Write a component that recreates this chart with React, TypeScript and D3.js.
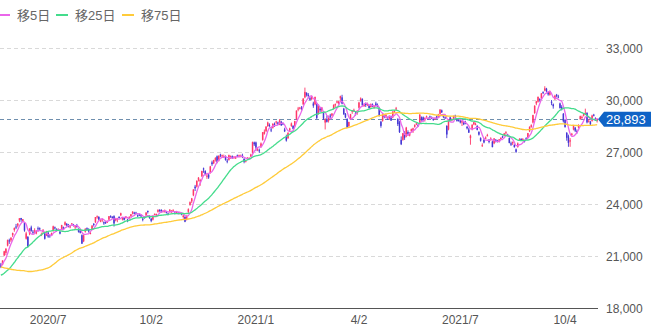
import React from "react";
import * as d3 from "d3";

// Closes before the first visible candle (needed for the moving averages)
const priorCloses: number[] = [
  22977, 23205,
  22971, 23084, 23319, 23873, 23827, 23685, 23861, 23827, 23687, 23523, 23194, 23400, 23479, 23386, 22605, 22426, 21948, 21142,
  21344, 21082, 21100, 21329, 20749, 19698, 19867, 19416, 18559, 17431, 17002, 17011, 16726, 16552, 16887, 18092, 19546, 18665, 19389, 19084, 18917,
  18065, 17819, 17820, 18576, 18950, 19353, 19345, 19498, 19043, 19638, 19550, 19290, 19897, 19669, 19281, 19137, 19429, 19262, 19783, 19771, 20194,
  19619, 19674, 20179, 20390, 20366, 20267, 19915, 20037, 20133, 20433, 20595, 20552,
];

// [date, open, high, low, close]
const candles: [string, number, number, number, number][] = [
  ["2020-05-22", 20500, 20600, 20300, 20388], ["2020-05-25", 20500, 20750, 20460, 20741], ["2020-05-26", 21030, 21300, 20990, 21271],
  ["2020-05-27", 21180, 21450, 21050, 21419], ["2020-05-28", 21600, 21950, 21550, 21916], ["2020-05-29", 21900, 22000, 21700, 21877],
  ["2020-06-01", 21900, 22070, 21800, 22062], ["2020-06-02", 22200, 22350, 22100, 22325], ["2020-06-03", 22500, 22650, 22400, 22613],
  ["2020-06-04", 22700, 22850, 22550, 22695], ["2020-06-05", 22750, 22900, 22650, 22863], ["2020-06-08", 23050, 23180, 22950, 23178],
  ["2020-06-09", 23190, 23200, 22970, 23091], ["2020-06-10", 23000, 23130, 22950, 23124], ["2020-06-11", 22900, 22950, 22400, 22472],
  ["2020-06-12", 22000, 22400, 21950, 22305], ["2020-06-15", 22100, 22150, 21500, 21531], ["2020-06-16", 22300, 22600, 22200, 22582],
  ["2020-06-17", 22650, 22750, 22400, 22455], ["2020-06-18", 22400, 22500, 22250, 22355], ["2020-06-19", 22450, 22600, 22300, 22478],
  ["2020-06-22", 22300, 22500, 22250, 22437], ["2020-06-23", 22600, 22700, 22400, 22549], ["2020-06-24", 22600, 22650, 22450, 22534],
  ["2020-06-25", 22250, 22350, 22150, 22259], ["2020-06-26", 22400, 22550, 22300, 22512], ["2020-06-29", 22300, 22350, 21950, 21995],
  ["2020-06-30", 22200, 22450, 22150, 22288],
  ["2020-07-01", 22350, 22400, 22050, 22122], ["2020-07-02", 22200, 22250, 22050, 22145], ["2020-07-03", 22250, 22350, 22200, 22306],
  ["2020-07-06", 22450, 22750, 22400, 22714], ["2020-07-07", 22650, 22700, 22550, 22614], ["2020-07-08", 22550, 22600, 22400, 22438],
  ["2020-07-09", 22500, 22600, 22450, 22529], ["2020-07-10", 22400, 22450, 22250, 22291], ["2020-07-13", 22500, 22800, 22480, 22784],
  ["2020-07-14", 22650, 22700, 22500, 22587], ["2020-07-15", 22800, 23000, 22750, 22945], ["2020-07-16", 22850, 22900, 22700, 22770],
  ["2020-07-17", 22800, 22850, 22650, 22696], ["2020-07-20", 22650, 22750, 22600, 22717], ["2020-07-21", 22850, 22900, 22750, 22884],
  ["2020-07-22", 22800, 22850, 22700, 22751], ["2020-07-27", 22650, 22750, 22550, 22715], ["2020-07-28", 22750, 22850, 22650, 22657],
  ["2020-07-29", 22550, 22600, 22350, 22397], ["2020-07-30", 22450, 22500, 22300, 22339], ["2020-07-31", 22200, 22250, 21700, 21710],
  ["2020-08-03", 21850, 22250, 21800, 22195], ["2020-08-04", 22400, 22600, 22350, 22573], ["2020-08-05", 22600, 22650, 22450, 22514],
  ["2020-08-06", 22550, 22600, 22350, 22418], ["2020-08-07", 22300, 22400, 22250, 22329], ["2020-08-11", 22550, 22780, 22500, 22750],
  ["2020-08-12", 22850, 22900, 22700, 22843], ["2020-08-13", 22950, 23250, 22900, 23249], ["2020-08-14", 23250, 23340, 23150, 23289],
  ["2020-08-17", 23250, 23300, 23050, 23096], ["2020-08-18", 23050, 23150, 22950, 23051], ["2020-08-19", 23050, 23150, 22950, 23110],
  ["2020-08-20", 22950, 23000, 22800, 22880], ["2020-08-21", 22950, 23000, 22850, 22920], ["2020-08-24", 22950, 23050, 22900, 22985],
  ["2020-08-25", 23100, 23300, 23050, 23296], ["2020-08-26", 23300, 23350, 23200, 23290], ["2020-08-27", 23250, 23300, 23150, 23208],
  ["2020-08-28", 23300, 23350, 22700, 22882], ["2020-08-31", 23050, 23200, 23000, 23139],
  ["2020-09-01", 23100, 23200, 22950, 23138], ["2020-09-02", 23250, 23300, 23150, 23247], ["2020-09-03", 23350, 23500, 23300, 23465],
  ["2020-09-04", 23100, 23250, 23050, 23205], ["2020-09-07", 23200, 23250, 23050, 23089], ["2020-09-08", 23200, 23300, 23150, 23274],
  ["2020-09-09", 23100, 23150, 22950, 23032], ["2020-09-10", 23150, 23300, 23100, 23235], ["2020-09-11", 23300, 23420, 23250, 23406],
  ["2020-09-14", 23450, 23580, 23400, 23559], ["2020-09-15", 23500, 23550, 23400, 23454], ["2020-09-16", 23500, 23550, 23400, 23475],
  ["2020-09-17", 23350, 23400, 23250, 23319], ["2020-09-18", 23400, 23450, 23300, 23360], ["2020-09-23", 23350, 23400, 23250, 23346],
  ["2020-09-24", 23150, 23200, 23000, 23087], ["2020-09-25", 23250, 23300, 23150, 23204], ["2020-09-28", 23350, 23520, 23300, 23511],
  ["2020-09-29", 23600, 23620, 23450, 23539], ["2020-09-30", 23300, 23350, 23150, 23185],
  ["2020-10-02", 23150, 23200, 22950, 23029], ["2020-10-05", 23100, 23350, 23050, 23312], ["2020-10-06", 23400, 23450, 23350, 23433],
  ["2020-10-07", 23350, 23450, 23300, 23422], ["2020-10-08", 23550, 23700, 23500, 23647], ["2020-10-09", 23650, 23700, 23550, 23619],
  ["2020-10-12", 23650, 23700, 23500, 23558], ["2020-10-13", 23550, 23650, 23500, 23601], ["2020-10-14", 23550, 23680, 23500, 23626],
  ["2020-10-15", 23550, 23600, 23450, 23507], ["2020-10-16", 23450, 23500, 23350, 23410], ["2020-10-19", 23550, 23700, 23500, 23671],
  ["2020-10-20", 23550, 23650, 23500, 23567], ["2020-10-21", 23600, 23700, 23550, 23639], ["2020-10-22", 23500, 23550, 23400, 23474],
  ["2020-10-23", 23500, 23550, 23450, 23516], ["2020-10-26", 23500, 23550, 23400, 23494], ["2020-10-27", 23450, 23550, 23400, 23485],
  ["2020-10-28", 23450, 23500, 23350, 23418], ["2020-10-29", 23250, 23400, 23150, 23331], ["2020-10-30", 23250, 23300, 22950, 22977],
  ["2020-11-02", 23100, 23350, 23050, 23295], ["2020-11-04", 23550, 23750, 23450, 23695], ["2020-11-05", 23950, 24150, 23900, 24105],
  ["2020-11-06", 24150, 24350, 24050, 24325], ["2020-11-09", 24500, 24850, 24450, 24839], ["2020-11-10", 25000, 25100, 24750, 24905],
  ["2020-11-11", 25000, 25350, 24950, 25349], ["2020-11-12", 25400, 25550, 25300, 25520], ["2020-11-13", 25300, 25450, 25050, 25385],
  ["2020-11-16", 25600, 25920, 25550, 25906], ["2020-11-17", 26050, 26100, 25800, 26014], ["2020-11-18", 25900, 25950, 25650, 25728],
  ["2020-11-19", 25600, 25800, 25450, 25634], ["2020-11-20", 25700, 25750, 25450, 25527], ["2020-11-24", 25800, 26200, 25750, 26165],
  ["2020-11-25", 26400, 26500, 26200, 26297], ["2020-11-26", 26350, 26550, 26300, 26537], ["2020-11-27", 26550, 26700, 26450, 26644],
  ["2020-11-30", 26750, 26800, 26350, 26433],
  ["2020-12-01", 26500, 26800, 26450, 26787], ["2020-12-02", 26850, 26900, 26700, 26800], ["2020-12-03", 26800, 26850, 26700, 26809],
  ["2020-12-04", 26750, 26850, 26650, 26751], ["2020-12-07", 26750, 26800, 26500, 26547], ["2020-12-08", 26500, 26600, 26350, 26467],
  ["2020-12-09", 26550, 26850, 26500, 26817], ["2020-12-10", 26700, 26800, 26600, 26756], ["2020-12-11", 26750, 26800, 26600, 26652],
  ["2020-12-14", 26700, 26750, 26600, 26732], ["2020-12-15", 26650, 26750, 26600, 26687], ["2020-12-16", 26800, 26850, 26700, 26757],
  ["2020-12-17", 26800, 26850, 26700, 26806], ["2020-12-18", 26750, 26850, 26700, 26763], ["2020-12-21", 26800, 26900, 26650, 26714],
  ["2020-12-22", 26600, 26650, 26350, 26436], ["2020-12-23", 26450, 26550, 26400, 26524], ["2020-12-24", 26600, 26700, 26550, 26668],
  ["2020-12-25", 26650, 26700, 26600, 26656], ["2020-12-28", 26750, 26900, 26700, 26854], ["2020-12-29", 26950, 27600, 26900, 27568],
  ["2020-12-30", 27550, 27600, 27350, 27444],
  ["2021-01-04", 27550, 27600, 27050, 27258], ["2021-01-05", 27150, 27250, 27050, 27158], ["2021-01-06", 27100, 27200, 26950, 27055],
  ["2021-01-07", 27300, 27550, 27250, 27490], ["2021-01-08", 27700, 28150, 27650, 28139], ["2021-01-12", 28050, 28300, 28000, 28164],
  ["2021-01-13", 28200, 28500, 28150, 28456], ["2021-01-14", 28500, 28750, 28450, 28698], ["2021-01-15", 28550, 28650, 28450, 28519],
  ["2021-01-18", 28300, 28450, 28150, 28242], ["2021-01-19", 28400, 28650, 28350, 28633], ["2021-01-20", 28600, 28700, 28450, 28523],
  ["2021-01-21", 28700, 28800, 28600, 28756], ["2021-01-22", 28700, 28750, 28550, 28631], ["2021-01-25", 28600, 28900, 28550, 28822],
  ["2021-01-26", 28750, 28800, 28500, 28546], ["2021-01-27", 28650, 28700, 28550, 28635], ["2021-01-28", 28300, 28400, 28150, 28197],
  ["2021-01-29", 27900, 28000, 27600, 27663],
  ["2021-02-01", 27800, 28150, 27750, 28091], ["2021-02-02", 28250, 28400, 28150, 28362], ["2021-02-03", 28500, 28700, 28450, 28646],
  ["2021-02-04", 28500, 28550, 28300, 28341], ["2021-02-05", 28500, 28800, 28450, 28779], ["2021-02-08", 28900, 29400, 28850, 29388],
  ["2021-02-09", 29450, 29600, 29350, 29505], ["2021-02-10", 29500, 29600, 29450, 29562], ["2021-02-12", 29550, 29650, 29400, 29520],
  ["2021-02-15", 29750, 30100, 29700, 30084], ["2021-02-16", 30150, 30714, 30100, 30467], ["2021-02-17", 30400, 30450, 30200, 30292],
  ["2021-02-18", 30300, 30400, 30100, 30236], ["2021-02-19", 30100, 30200, 29950, 30017], ["2021-02-22", 30050, 30250, 30000, 30156],
  ["2021-02-24", 29800, 29900, 29550, 29671], ["2021-02-25", 29750, 30200, 29700, 30168], ["2021-02-26", 29800, 29850, 28900, 28966],
  ["2021-03-01", 29200, 29700, 29150, 29663], ["2021-03-02", 29500, 29600, 29300, 29408], ["2021-03-03", 29400, 29600, 29300, 29559],
  ["2021-03-04", 29300, 29350, 28850, 28930], ["2021-03-05", 28700, 28950, 28300, 28864], ["2021-03-08", 28900, 29100, 28700, 28743],
  ["2021-03-09", 28800, 29100, 28700, 29028], ["2021-03-10", 29100, 29200, 28900, 29036], ["2021-03-11", 29100, 29250, 29050, 29211],
  ["2021-03-12", 29500, 29750, 29450, 29717], ["2021-03-15", 29700, 29800, 29600, 29766], ["2021-03-16", 29850, 29950, 29800, 29921],
  ["2021-03-17", 29800, 29950, 29750, 29914], ["2021-03-18", 30100, 30250, 29950, 30216], ["2021-03-19", 30150, 30300, 29750, 29792],
  ["2021-03-22", 29500, 29550, 29150, 29174], ["2021-03-23", 29200, 29250, 28950, 28995], ["2021-03-24", 28900, 28950, 28400, 28405],
  ["2021-03-25", 28500, 28750, 28400, 28729], ["2021-03-26", 28900, 29200, 28850, 29176], ["2021-03-29", 29350, 29400, 29200, 29384],
  ["2021-03-30", 29400, 29500, 29300, 29432], ["2021-03-31", 29250, 29350, 29100, 29178],
  ["2021-04-01", 29250, 29400, 29150, 29388], ["2021-04-02", 29550, 29900, 29500, 29854], ["2021-04-05", 29950, 30150, 29900, 30089],
  ["2021-04-06", 30050, 30100, 29650, 29696], ["2021-04-07", 29650, 29800, 29600, 29730], ["2021-04-08", 29800, 29850, 29600, 29708],
  ["2021-04-09", 29750, 29850, 29650, 29768], ["2021-04-12", 29700, 29750, 29500, 29538], ["2021-04-13", 29600, 29800, 29550, 29751],
  ["2021-04-14", 29750, 29800, 29600, 29620], ["2021-04-15", 29550, 29700, 29500, 29642], ["2021-04-16", 29800, 29900, 29650, 29683],
  ["2021-04-19", 29700, 29800, 29600, 29685], ["2021-04-20", 29550, 29600, 29050, 29100], ["2021-04-21", 28750, 28800, 28400, 28508],
  ["2021-04-22", 28800, 29250, 28750, 29188], ["2021-04-23", 29100, 29150, 28950, 29020], ["2021-04-26", 29050, 29200, 29000, 29126],
  ["2021-04-27", 29000, 29050, 28850, 28991], ["2021-04-28", 28950, 29100, 28850, 29053], ["2021-04-30", 29050, 29100, 28800, 28812],
  ["2021-05-06", 29000, 29350, 28950, 29331], ["2021-05-07", 29300, 29400, 29250, 29357], ["2021-05-10", 29500, 29600, 29400, 29518],
  ["2021-05-11", 28900, 28950, 28500, 28608], ["2021-05-12", 28700, 28800, 28100, 28147], ["2021-05-13", 27700, 27900, 27400, 27448],
  ["2021-05-14", 27700, 28100, 27650, 28084], ["2021-05-17", 28100, 28200, 27700, 27824], ["2021-05-18", 27900, 28450, 27850, 28406],
  ["2021-05-19", 28150, 28250, 27950, 28044], ["2021-05-20", 27950, 28150, 27900, 28098], ["2021-05-21", 28200, 28350, 28150, 28317],
  ["2021-05-24", 28200, 28400, 28100, 28364], ["2021-05-25", 28450, 28600, 28400, 28553], ["2021-05-26", 28600, 28700, 28550, 28642],
  ["2021-05-27", 28550, 28650, 28450, 28549], ["2021-05-28", 28700, 29200, 28650, 29149], ["2021-05-31", 29000, 29050, 28800, 28860],
  ["2021-06-01", 29000, 29050, 28750, 28814], ["2021-06-02", 28850, 29000, 28750, 28946], ["2021-06-03", 29000, 29100, 28950, 29058],
  ["2021-06-04", 28950, 29000, 28850, 28941], ["2021-06-07", 29050, 29100, 28950, 29019], ["2021-06-08", 29000, 29050, 28900, 28963],
  ["2021-06-09", 28900, 28950, 28800, 28860], ["2021-06-10", 28900, 29000, 28850, 28958], ["2021-06-11", 29050, 29100, 28900, 28948],
  ["2021-06-14", 29050, 29200, 29000, 29161], ["2021-06-15", 29200, 29480, 29150, 29441], ["2021-06-16", 29400, 29450, 29250, 29291],
  ["2021-06-17", 29100, 29150, 28950, 29018], ["2021-06-18", 29000, 29050, 28900, 28964], ["2021-06-21", 28500, 28550, 27800, 28010],
  ["2021-06-22", 28300, 28900, 28250, 28884], ["2021-06-23", 29000, 29050, 28850, 28874], ["2021-06-24", 28850, 28950, 28800, 28875],
  ["2021-06-25", 28950, 29100, 28900, 29066], ["2021-06-28", 29100, 29150, 28950, 29048], ["2021-06-29", 28850, 28900, 28750, 28812],
  ["2021-06-30", 28900, 28950, 28750, 28791],
  ["2021-07-01", 28800, 28850, 28650, 28707], ["2021-07-02", 28700, 28800, 28500, 28783], ["2021-07-05", 28750, 28800, 28550, 28598],
  ["2021-07-06", 28700, 28800, 28600, 28643], ["2021-07-07", 28450, 28500, 28300, 28366], ["2021-07-08", 28300, 28400, 28100, 28118],
  ["2021-07-09", 27800, 28000, 27420, 27940], ["2021-07-12", 28300, 28600, 28250, 28569], ["2021-07-13", 28600, 28750, 28550, 28718],
  ["2021-07-14", 28600, 28700, 28550, 28608], ["2021-07-15", 28500, 28550, 28250, 28279], ["2021-07-16", 28150, 28200, 27950, 28003],
  ["2021-07-19", 27800, 27850, 27600, 27652], ["2021-07-20", 27350, 27500, 27300, 27388], ["2021-07-21", 27700, 27800, 27500, 27548],
  ["2021-07-26", 27800, 27900, 27750, 27833], ["2021-07-27", 27950, 28050, 27900, 27970], ["2021-07-28", 27700, 27750, 27500, 27581],
  ["2021-07-29", 27700, 27850, 27650, 27782], ["2021-07-30", 27600, 27650, 27270, 27283],
  ["2021-08-02", 27500, 27800, 27450, 27781], ["2021-08-03", 27700, 27750, 27550, 27642], ["2021-08-04", 27650, 27700, 27550, 27584],
  ["2021-08-05", 27650, 27750, 27550, 27728], ["2021-08-06", 27750, 27850, 27700, 27820], ["2021-08-10", 27900, 27950, 27800, 27888],
  ["2021-08-11", 27950, 28100, 27900, 28070], ["2021-08-12", 28100, 28200, 28000, 28140], ["2021-08-13", 28000, 28050, 27900, 27977],
  ["2021-08-16", 27800, 27850, 27500, 27523], ["2021-08-17", 27500, 27600, 27350, 27424], ["2021-08-18", 27500, 27600, 27400, 27585],
  ["2021-08-19", 27400, 27450, 27250, 27281], ["2021-08-20", 27150, 27200, 26950, 27013], ["2021-08-23", 27300, 27550, 27250, 27494],
  ["2021-08-24", 27700, 27800, 27650, 27732], ["2021-08-25", 27750, 27800, 27650, 27724], ["2021-08-26", 27700, 27800, 27650, 27742],
  ["2021-08-27", 27650, 27700, 27550, 27641], ["2021-08-30", 27800, 27850, 27700, 27789], ["2021-08-31", 27850, 28100, 27800, 28089],
  ["2021-09-01", 28200, 28480, 28150, 28451], ["2021-09-02", 28450, 28600, 28400, 28543], ["2021-09-03", 28700, 29150, 28650, 29128],
  ["2021-09-06", 29250, 29700, 29200, 29659], ["2021-09-07", 29800, 29950, 29700, 29916], ["2021-09-08", 29900, 30200, 29850, 30181],
  ["2021-09-09", 30050, 30100, 29900, 30008], ["2021-09-10", 30100, 30400, 30050, 30381], ["2021-09-13", 30450, 30500, 30350, 30447],
  ["2021-09-14", 30550, 30795, 30500, 30670], ["2021-09-15", 30650, 30700, 30450, 30511], ["2021-09-16", 30450, 30500, 30250, 30323],
  ["2021-09-17", 30300, 30550, 30250, 30500], ["2021-09-21", 29900, 30000, 29700, 29839], ["2021-09-22", 29750, 29800, 29500, 29639],
  ["2021-09-24", 30050, 30300, 30000, 30248], ["2021-09-27", 30300, 30350, 30150, 30240], ["2021-09-28", 30200, 30300, 30100, 30183],
  ["2021-09-29", 29800, 29850, 29500, 29544], ["2021-09-30", 29600, 29700, 29400, 29452],
  ["2021-10-01", 29200, 29250, 28700, 28771], ["2021-10-04", 28850, 28900, 28400, 28444], ["2021-10-05", 28100, 28150, 27650, 27822],
  ["2021-10-06", 27900, 28000, 27300, 27528], ["2021-10-07", 27600, 27800, 27300, 27678], ["2021-10-08", 28000, 28100, 27900, 28048],
  ["2021-10-11", 28300, 28550, 28250, 28498], ["2021-10-12", 28400, 28450, 28150, 28230], ["2021-10-13", 28200, 28300, 28050, 28140],
  ["2021-10-14", 28400, 28600, 28350, 28550], ["2021-10-15", 28900, 29100, 28850, 29068], ["2021-10-18", 29000, 29100, 28900, 29025],
  ["2021-10-19", 29100, 29250, 29050, 29215], ["2021-10-20", 29200, 29500, 29150, 29255], ["2021-10-21", 29250, 29300, 28650, 28708],
  ["2021-10-22", 28800, 28900, 28700, 28804], ["2021-10-25", 28750, 28800, 28550, 28600], ["2021-10-26", 28800, 29150, 28750, 29106],
  ["2021-10-27", 29150, 29200, 29050, 29098], ["2021-10-28", 28950, 29000, 28800, 28820], ["2021-10-29", 28800, 28950, 28700, 28893],
];

const yTicks = [18000, 21000, 24000, 27000, 30000, 33000];
const xTickDates = ["2020-07-01", "2020-10-02", "2021-01-04", "2021-04-02", "2021-07-01", "2021-10-04"];
const xTickLabels = ["2020/7", "10/2", "2021/1", "4/2", "2021/7", "10/4"];
const maPeriods = [5, 25, 75];
const maLabels = ["移5日", "移25日", "移75日"];

const W = 651;
const H = 327;
const PLOT_L = 0;
const PLOT_R = 598;
const UP = "#ff3768";
const DOWN = "#4436d4";
const MA_COLORS = ["#ea66ea", "#44dc8c", "#ffcb3a"];
const FONT = "Arial, 'Liberation Sans', 'Noto Sans CJK JP', sans-serif";

export default function App() {
  const dates = candles.map((c) => c[0]);
  const x = d3.scaleBand<string>().domain(dates).range([PLOT_L, PLOT_R]).paddingInner(0.12).paddingOuter(0.06);
  const y = d3.scaleLinear().domain([18000, 33000]).range([308, 48]);
  const cx = (d: string) => (x(d) as number) + x.bandwidth() / 2;

  const allCloses = [...priorCloses, ...candles.map((c) => c[4])];
  const offset = priorCloses.length;
  const maSeries = maPeriods.map((n) =>
    candles.map((c, i) => {
      const end = offset + i + 1;
      return { d: c[0], v: d3.mean(allCloses.slice(end - n, end)) as number };
    })
  );
  const line = d3
    .line<{ d: string; v: number }>()
    .x((p) => cx(p.d))
    .y((p) => y(p.v))
    .curve(d3.curveMonotoneX);

  const last = candles[candles.length - 1][4];
  const ly = y(last);
  const fmt = d3.format(",");

  return (
    <svg
      width={W}
      height={H}
      style={{ position: "absolute", left: 0, top: 0, background: "#fff" }}
      fontFamily={FONT}
    >
      {/* grid */}
      {yTicks.slice(1).map((t) => (
        <line key={t} x1={PLOT_L} x2={PLOT_R} y1={Math.round(y(t)) + 0.5} y2={Math.round(y(t)) + 0.5}
          stroke="#d9d9d9" strokeDasharray="4,3" />
      ))}
      {/* axis line */}
      <line x1={PLOT_L} x2={PLOT_R} y1={Math.round(y(18000)) + 0.5} y2={Math.round(y(18000)) + 0.5} stroke="#555" />
      {yTicks.map((t) => (
        <text key={t} x={606} y={y(t) + 4.5} fontSize={12} fill="#555">{fmt(t)}</text>
      ))}
      {xTickDates.map((d, i) => (
        <text key={d} x={cx(d)} y={324} fontSize={12} fill="#555" textAnchor="middle">{xTickLabels[i]}</text>
      ))}

      {/* last price line */}
      <line x1={PLOT_L} x2={PLOT_R} y1={Math.round(ly) + 0.5} y2={Math.round(ly) + 0.5}
        stroke="#6f8fae" strokeDasharray="4,3" />

      {/* candles */}
      {candles.map(([d, o, h, l, c]) => {
        const col = c >= o ? UP : DOWN;
        const top = y(Math.max(o, c));
        const bot = y(Math.min(o, c));
        return (
          <g key={d}>
            <line x1={cx(d)} x2={cx(d)} y1={y(h)} y2={y(l)} stroke={col} strokeWidth={0.9} />
            <rect x={x(d)} y={top} width={x.bandwidth()} height={Math.max(bot - top, 1)} fill={col} />
          </g>
        );
      })}

      {/* moving averages */}
      {maSeries.map((s, i) => (
        <path key={i} d={line(s) as string} fill="none" stroke={MA_COLORS[i]} strokeWidth={1.3} />
      ))}

      {/* last price label */}
      <path d={`M${PLOT_R},${ly} L${PLOT_R + 6},${ly - 7.5} L${W},${ly - 7.5} L${W},${ly + 7.5} L${PLOT_R + 6},${ly + 7.5} Z`}
        fill="#0f63c6" />
      <text x={606} y={ly + 5} fontSize={13} fill="#fff">{fmt(last)}</text>

      {/* legend */}
      {maLabels.map((lab, i) => {
        const lx = [0, 58, 124][i];
        return (
          <g key={lab}>
            <line x1={lx - 2} x2={lx + 10} y1={15} y2={15} stroke={MA_COLORS[i]} strokeWidth={2} />
            <text x={lx + 17} y={20} fontSize={13} fill="#666">{lab}</text>
          </g>
        );
      })}
    </svg>
  );
}
